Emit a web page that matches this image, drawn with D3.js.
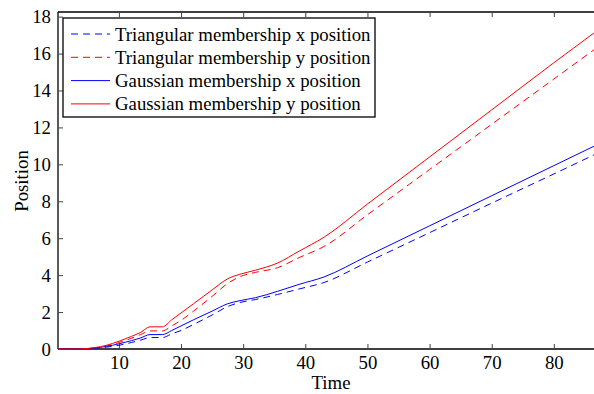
<!DOCTYPE html>
<html>
<head>
<meta charset="utf-8">
<script src="https://cdn.jsdelivr.net/npm/d3@7"></script>
<style>
    body { margin: 0; background: #fff; }
</style>
</head>
<body>
<div id="chart"></div>
<script>
// time samples
const time = [0, 2, 4, 6, 8, 10, 12, 13.5, 15, 17, 18.5, 20, 22, 25, 27.5, 29.5, 32, 35.5, 39, 43, 50, 60, 70, 80, 87];

const triX = [0, 0, 0.01, 0.04, 0.1, 0.2, 0.35, 0.48, 0.62, 0.62, 0.82, 1.0, 1.33, 1.84, 2.3, 2.52, 2.68, 2.95, 3.25, 3.6, 4.71, 6.3, 7.9, 9.48, 10.6];
const triY = [0, 0, 0.01, 0.05, 0.16, 0.35, 0.58, 0.78, 0.98, 0.98, 1.25, 1.55, 2.05, 2.85, 3.55, 3.92, 4.15, 4.4, 4.95, 5.55, 7.27, 9.72, 12.17, 14.62, 16.34];
const gaussX = [0, 0, 0.01, 0.05, 0.14, 0.28, 0.45, 0.6, 0.78, 0.78, 1.0, 1.25, 1.58, 2.05, 2.45, 2.62, 2.78, 3.12, 3.5, 3.9, 5.04, 6.67, 8.3, 9.93, 11.07];
const gaussY = [0, 0, 0.01, 0.07, 0.2, 0.42, 0.68, 0.9, 1.2, 1.2, 1.58, 1.95, 2.45, 3.2, 3.8, 4.05, 4.27, 4.65, 5.3, 6.05, 7.85, 10.4, 12.95, 15.5, 17.25];

const seriesNames = ['Triangular membership x position', 'Triangular membership y position',
    'Gaussian membership x position', 'Gaussian membership y position'];
const seriesValues = [triX, triY, gaussX, gaussY];
const seriesColors = ['#0000ff', '#ff0000', '#0000ff', '#ff0000'];
const seriesDash = ['7,5', '7,5', null, null];

const xTicks = [10, 20, 30, 40, 50, 60, 70, 80];
const yTicks = [0, 2, 4, 6, 8, 10, 12, 14, 16, 18];

const width = 594, height = 394;
const plotLeft = 58, plotRight = 594, plotTop = 12, plotBottom = 349;
const fontFamily = '"Liberation Serif", "Times New Roman", "DejaVu Serif", serif';
const fontSize = '18.8px';

const svg = d3.select('#chart').append('svg')
    .attr('width', width)
    .attr('height', height)
    .attr('font-family', fontFamily);

const x = d3.scaleLinear().domain([0.2, 86.46]).range([plotLeft, plotRight]);
const y = d3.scaleLinear().domain([0, 18.25]).range([plotBottom, plotTop]);

svg.append('defs').append('clipPath').attr('id', 'clip')
    .append('rect')
    .attr('x', plotLeft).attr('y', plotTop)
    .attr('width', plotRight - plotLeft).attr('height', plotBottom - plotTop);

// axes (ticks point inward, like matlab)
const bottomAxis = svg.append('g')
    .attr('transform', `translate(0,${plotBottom})`)
    .call(d3.axisBottom(x).tickValues(xTicks).tickSizeInner(-5).tickSizeOuter(0).tickPadding(7));
const topAxis = svg.append('g')
    .attr('transform', `translate(0,${plotTop})`)
    .call(d3.axisTop(x).tickValues(xTicks).tickSizeInner(-5).tickSizeOuter(0).tickFormat(''));
const leftAxis = svg.append('g')
    .attr('transform', `translate(${plotLeft},0)`)
    .call(d3.axisLeft(y).tickValues(yTicks).tickSizeInner(-5).tickSizeOuter(0).tickPadding(7));

[bottomAxis, topAxis, leftAxis].forEach(g => {
    g.attr('font-family', fontFamily).attr('font-size', fontSize);
    g.select('.domain').attr('stroke', '#000').attr('stroke-width', 1.3);
    g.selectAll('.tick line').attr('stroke', '#444');
    g.selectAll('.tick text').attr('fill', '#000');
});
leftAxis.select('.domain').attr('d', `M0,${plotTop}V${plotBottom}`);
bottomAxis.select('.domain').attr('d', `M${plotLeft},0H${plotRight}`);
topAxis.select('.domain').attr('d', `M${plotLeft},0H${plotRight}`);

// lines
const line = d3.line()
    .x((d, i) => x(time[i]))
    .y(d => y(d))
    .curve(d3.curveMonotoneX);

const plot = svg.append('g').attr('clip-path', 'url(#clip)');
seriesValues.forEach((vals, i) => {
    plot.append('path')
        .datum(vals)
        .attr('d', line)
        .attr('fill', 'none')
        .attr('stroke', seriesColors[i])
        .attr('stroke-width', 1)
        .attr('stroke-dasharray', seriesDash[i]);
});

// axis labels
svg.append('text')
    .attr('x', 331).attr('y', 389)
    .attr('text-anchor', 'middle')
    .attr('font-size', fontSize)
    .text('Time');
svg.append('text')
    .attr('transform', 'translate(28,181) rotate(-90)')
    .attr('text-anchor', 'middle')
    .attr('font-size', fontSize)
    .text('Position');

// legend
const legend = svg.append('g');
legend.append('rect')
    .attr('x', 63).attr('y', 18)
    .attr('width', 312).attr('height', 99)
    .attr('fill', '#fff')
    .attr('stroke', '#000')
    .attr('stroke-width', 1.3);

seriesNames.forEach((name, i) => {
    const ly = 34 + i * 23.3;
    legend.append('line')
        .attr('x1', 71).attr('x2', 110)
        .attr('y1', ly).attr('y2', ly)
        .attr('stroke', seriesColors[i])
        .attr('stroke-width', 1)
        .attr('stroke-dasharray', seriesDash[i]);
    legend.append('text')
        .attr('x', 115).attr('y', ly)
        .attr('dy', '0.35em')
        .attr('font-size', fontSize)
        .text(name);
});
</script>
</body>
</html>
